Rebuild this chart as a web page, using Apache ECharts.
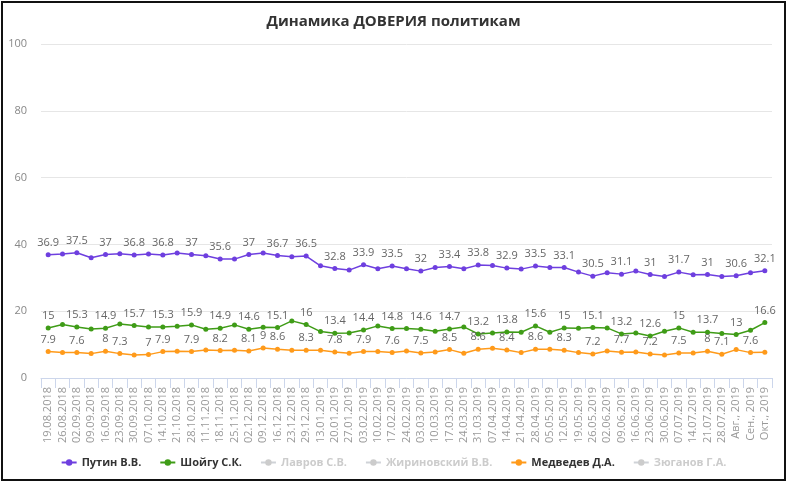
<!DOCTYPE html>
<html><head><meta charset="utf-8">
<script src="https://cdn.jsdelivr.net/npm/echarts@6/dist/echarts.min.js"></script>
<style>
html,body{margin:0;padding:0;background:#fff;}
#c{position:absolute;left:1px;top:1px;width:781px;height:476px;border:2px solid #111;}
</style></head>
<body><div id="c"></div>
<script>
const categories = ["19.08.2018","26.08.2018","02.09.2018","09.09.2018","16.09.2018","23.09.2018","30.09.2018","07.10.2018","14.10.2018","21.10.2018","28.10.2018","11.11.2018","18.11.2018","25.11.2018","02.12.2018","09.12.2018","16.12.2018","23.12.2018","29.12.2018","13.01.2019","20.01.2019","27.01.2019","03.02.2019","10.02.2019","17.02.2019","24.02.2019","03.03.2019","10.03.2019","17.03.2019","24.03.2019","31.03.2019","07.04.2019","14.04.2019","21.04.2019","28.04.2019","05.05.2019","12.05.2019","19.05.2019","26.05.2019","02.06.2019","09.06.2019","16.06.2019","23.06.2019","30.06.2019","07.07.2019","14.07.2019","21.07.2019","28.07.2019","Авг., 2019","Сен., 2019","Окт., 2019"];

const putin = [36.9,37.1,37.5,36.0,37,37.2,36.8,37.1,36.8,37.4,37,36.6,35.6,35.6,37,37.4,36.7,36.3,36.5,33.6,32.8,32.3,33.9,32.7,33.5,32.7,32,33.1,33.4,32.7,33.8,33.7,32.9,32.6,33.5,33.1,33.1,31.7,30.5,31.5,31.1,32,31,30.4,31.7,30.9,31,30.4,30.6,31.5,32.1];
const shoigu = [15,16,15.3,14.7,14.9,16.2,15.7,15.3,15.3,15.5,15.9,14.6,14.9,15.9,14.6,15.2,15.1,17.1,16,13.9,13.4,13.5,14.4,15.6,14.8,14.8,14.6,14.0,14.7,15.3,13.2,13.5,13.8,13.7,15.6,13.7,15,14.9,15.1,15,13.2,13.5,12.6,14,15,13.7,13.7,13.3,13,14.3,16.6];
const medvedev = [7.9,7.6,7.6,7.3,8,7.3,6.9,7,7.9,8,7.9,8.4,8.2,8.3,8.1,9,8.6,8.3,8.3,8.3,7.8,7.4,7.9,7.9,7.6,8.1,7.5,7.8,8.5,7.4,8.6,8.9,8.4,7.6,8.6,8.6,8.3,7.6,7.2,8.1,7.7,7.8,7.2,6.9,7.5,7.5,8,7.1,8.5,7.6,7.7];
const lavrov = [];
const zhirinovsky = [];
const zyuganov = [];

const putinLabelIdx = [0,2,4,6,8,10,12,14,16,18,20,22,24,26,28,30,32,34,36,38,40,42,44,46,48,50];
const shoiguLabelIdx = [0,2,4,6,8,10,12,14,16,18,20,22,24,26,28,30,32,34,36,38,40,42,44,46,48,50];
const medvedevLabelIdx = [0,2,4,5,7,8,10,12,14,15,16,18,20,22,24,26,28,30,32,34,36,38,40,42,44,46,47,49];

const yTicks = [0,20,40,60,80,100];

function mk(vals, idx){ return vals.map((v,i)=>({value:v,label:{show:idx.indexOf(i)>=0}})); }

function series(name, vals, idx, color){
  return {
    name:name, type:'line', data:mk(vals, idx),
    symbol:'circle', symbolSize:5,
    itemStyle:{color:color},
    lineStyle:{color:color,width:1.5},
    label:{position:'top',distance:4,color:'#666',fontSize:11,fontFamily:'Open Sans'},
    emphasis:{disabled:true}
  };
}

const chart = echarts.init(document.getElementById('c'), null, {renderer:'canvas'});
chart.setOption({
  animation:false,
  title:{text:'Динамика ДОВЕРИЯ политикам',left:'center',top:6,
    textStyle:{fontFamily:'Open Sans',fontSize:15,fontWeight:'bold',color:'#333'}},
  grid:{left:38,right:12,top:41,bottom:101,containLabel:false},
  legend:{bottom:6,left:'center',itemGap:18,itemWidth:15,itemHeight:8,inactiveColor:'#ccc',
    textStyle:{fontFamily:'Open Sans',fontSize:11,fontWeight:'bold',color:'#333'},
    data:['Путин В.В.','Шойгу С.К.','Лавров С.В.','Жириновский В.В.','Медведев Д.А.','Зюганов Г.А.'],
    selected:{'Лавров С.В.':false,'Жириновский В.В.':false,'Зюганов Г.А.':false}},
  xAxis:{type:'category',data:categories,boundaryGap:true,
    axisLine:{lineStyle:{color:'#ccd6eb'}},
    axisTick:{show:true,length:10,lineStyle:{color:'#ccd6eb'},alignWithLabel:false},
    axisLabel:{rotate:90,interval:0,margin:9,color:'#999',fontSize:11,fontFamily:'Open Sans'}},
  yAxis:{type:'value',min:yTicks[0],max:yTicks[yTicks.length-1],interval:20,
    axisLine:{show:false},axisTick:{show:false},
    axisLabel:{color:'#888',fontSize:11,fontFamily:'Open Sans',margin:14},
    splitLine:{lineStyle:{color:'#e6e6e6'}}},
  series:[
    series('Путин В.В.',putin,putinLabelIdx,'#6e3fdf'),
    series('Шойгу С.К.',shoigu,shoiguLabelIdx,'#3f9c17'),
    series('Лавров С.В.',lavrov,[], '#8e8e8e'),
    series('Жириновский В.В.',zhirinovsky,[], '#8e8e8e'),
    series('Медведев Д.А.',medvedev,medvedevLabelIdx,'#ff9a1a'),
    series('Зюганов Г.А.',zyuganov,[], '#8e8e8e')
  ]
});
</script></body></html>
